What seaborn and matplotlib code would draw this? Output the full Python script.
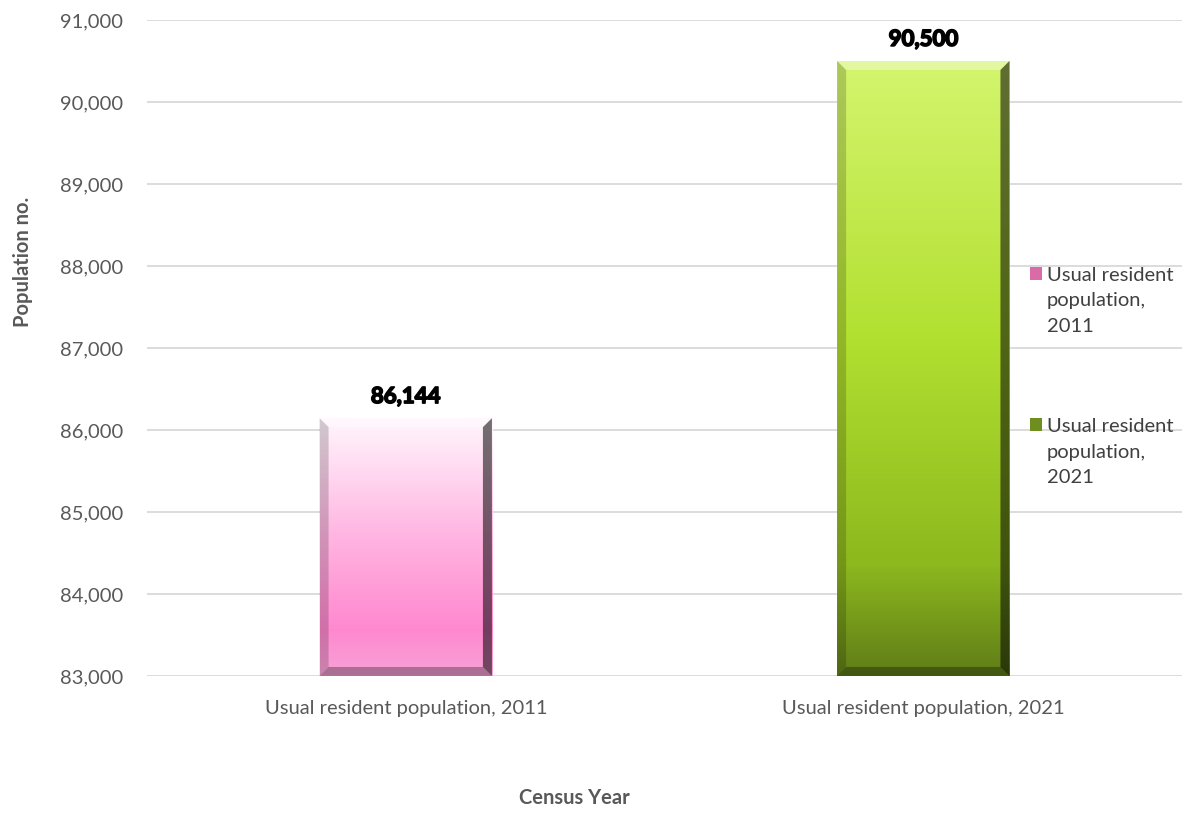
import matplotlib.pyplot as plt
import matplotlib.patches as mpatches
import matplotlib.patheffects as pe
from matplotlib.colors import LinearSegmentedColormap
from matplotlib.legend_handler import HandlerPatch
import numpy as np
import pandas as pd
import seaborn as sns

categories = ["Usual resident population, 2011", "Usual resident population, 2021"]
values = [86144, 90500]
legend_labels = ["Usual resident\npopulation,\n2011", "Usual resident\npopulation,\n2021"]
bar_colors = ["#FF8ACF", "#A2D11E"]
# gradient stops, bottom -> top
grad_colors = [
    ["#F7A2D6", "#FF88CF", "#FFB6E2", "#FFF6FD"],
    ["#5F7D18", "#8DB81E", "#B2E030", "#D4F56E"],
]
legend_colors = ["#D86BA8", "#6E8E20"]

sns.set_theme(style="white")
plt.rcParams['font.family'] = ['Lato', 'DejaVu Sans']

df = pd.DataFrame({"cat": categories, "val": values})

fig = plt.figure(figsize=(11.97, 8.16), dpi=100)
ax = fig.add_axes([0.1228, 0.1716, 0.8647, 0.8039])

sns.barplot(data=df, x="cat", y="val", hue="cat", palette=bar_colors,
            width=0.333, legend=False, ax=ax, zorder=2)
ax.set_ylim(83000, 91000)
ax.set_xlim(-0.5, 1.5)
ax.set_yticks(range(83000, 91001, 1000))
ax.yaxis.set_major_formatter(plt.FuncFormatter(lambda v, p: f"{int(v):,}"))
ax.grid(axis="y", color="#D9D9D9", linewidth=1.3, zorder=0)
ax.set_axisbelow(True)
for s in ax.spines.values():
    s.set_visible(False)
ax.tick_params(axis="y", length=0, labelsize=14.5, colors="#595959", pad=17)
ax.tick_params(axis="x", length=0, labelsize=14.5, colors="#595959", pad=17)
ax.set_xlabel("")
ax.set_ylabel("")

# data units per pixel, used for the bevel size
ylo, yhi = ax.get_ylim()
ax_h_px = ax.get_position().height * fig.get_figheight() * fig.dpi
ax_w_px = ax.get_position().width * fig.get_figwidth() * fig.dpi
y_per_px = (yhi - ylo) / ax_h_px
x_per_px = 2.0 / ax_w_px
bev = 9

for i, patch in enumerate(list(ax.patches)):
    x0, w = patch.get_x(), patch.get_width()
    y0 = max(patch.get_y(), ylo)
    y1 = patch.get_y() + patch.get_height()
    patch.set_visible(False)
    cmap = LinearSegmentedColormap.from_list("g", list(zip([0, 0.18, 0.55, 1.0], grad_colors[i])))
    grad = np.linspace(0, 1, 256).reshape(-1, 1)
    ax.imshow(grad, cmap=cmap, aspect="auto", origin="lower",
              extent=[x0, x0 + w, y0, y1], zorder=3)
    bx, by = bev * x_per_px, bev * y_per_px
    x1 = x0 + w
    # bevel faces: top light, right dark, bottom dark, left mid
    faces = [
        ([(x0, y1), (x1, y1), (x1 - bx, y1 - by), (x0 + bx, y1 - by)], "white", 0.35),
        ([(x1, y1), (x1, y0), (x1 - bx, y0 + by), (x1 - bx, y1 - by)], "black", 0.55),
        ([(x0, y0), (x1, y0), (x1 - bx, y0 + by), (x0 + bx, y0 + by)], "black", 0.3),
        ([(x0, y0), (x0, y1), (x0 + bx, y1 - by), (x0 + bx, y0 + by)], "black", 0.18),
    ]
    for pts, col, a in faces:
        ax.add_patch(mpatches.Polygon(pts, closed=True, facecolor=col, alpha=a,
                                      linewidth=0, zorder=4))
    ax.annotate(f"{values[i]:,}", (x0 + w / 2, y1), xytext=(0, 8),
                textcoords="offset points", ha="center", va="bottom",
                fontsize=16, fontweight="bold", color="black", zorder=5,
                path_effects=[pe.withStroke(linewidth=1.2, foreground="black")])

ax.set_xlim(-0.5, 1.5)
ax.set_ylim(ylo, yhi)


def top_square(legend, orig_handle, xdescent, ydescent, width, height, fontsize):
    shift = fontsize * 1.35
    return mpatches.Rectangle((-xdescent, -ydescent + shift), width, height)


handles = [mpatches.Patch(facecolor=c, edgecolor="none") for c in legend_colors]
leg = fig.legend(handles, legend_labels, loc="upper left", bbox_to_anchor=(0.8535, 0.683),
                 frameon=False, fontsize=14.5, handlelength=0.6, handleheight=0.6,
                 handletextpad=0.25, labelspacing=4.15, borderaxespad=0,
                 handler_map={mpatches.Patch: HandlerPatch(patch_func=top_square)})
for t in leg.get_texts():
    t.set_color("#404040")
    t.set_linespacing(1.6)

fig.text(0.48, 0.01, "Census Year", ha="center", va="bottom",
         fontsize=14.5, fontweight="bold", color="#595959")
fig.text(0.019, 0.679, "Population no.", ha="center", va="center", rotation=90,
         fontsize=14.5, fontweight="bold", color="#595959")

fig.savefig("out.png", dpi=100)
